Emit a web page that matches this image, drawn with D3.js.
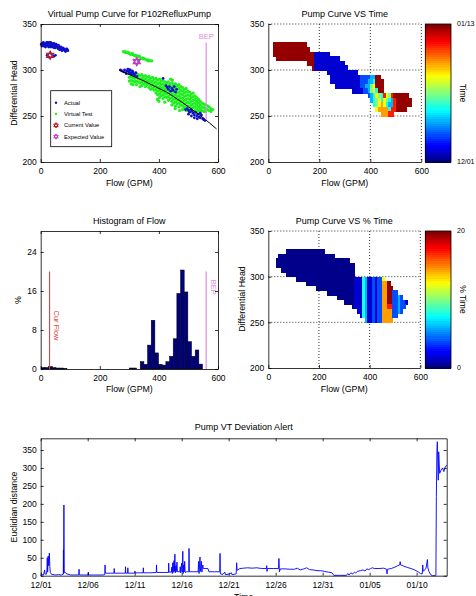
<!DOCTYPE html>
<html>
<head>
<meta charset="utf-8">
<script src="https://cdn.jsdelivr.net/npm/d3@7"></script>
<style>
  body { margin: 0; background: #fff; }
  svg { font-family: "Liberation Sans", Arial, Helvetica, sans-serif; }
</style>
</head>
<body>
<svg id="fig" width="476" height="596"></svg>
<script>
// ---------- data ----------
var flowTicks = [0, 200, 400, 600];
var headTicks = [200, 250, 300, 350];
var pctTicks = [0, 8, 16, 24];
var distTicks = [0, 50, 100, 150, 200, 250, 300, 350];
var dayTicks = [0, 5, 10, 15, 20, 25, 30, 35, 40];
var dayLabels = ['12/01', '12/06', '12/11', '12/16', '12/21', '12/26', '12/31', '01/05', '01/10'];

// actual operating points [flow, head]
var actualPts = [
  [2,328],[5,329],[8,327],[11,329],[14,327],[17,328],[20,326],[23,328],[26,327],[29,329],[32,326],[35,328],
  [38,327],[41,325],[44,327],[47,326],[50,324],[53,326],[56,325],[59,323],[62,325],[66,324],[70,322],[74,323],
  [78,322],[82,321],[86,322],[90,322],[20,330],[30,330],[45,329],[60,327],[10,326],[35,325],[55,327],[75,324],
  [4,326],[9,330],[16,325],[24,330],[27,325],[34,330],[40,329],[46,324],[52,328],[58,326],[64,322],[68,325],
  [72,321],[80,323],[84,320],[88,323],[92,321],
  [22,316],[28,314],[38,317],[44,315],[50,316],
  [270,300],[275,299],[280,298],[284,300],[288,297],[292,299],[295,301],[298,298],[301,296],[303,300],[306,297],
  [309,295],[312,298],[315,296],[318,294],[322,297],[326,293],[290,296],[300,300],[310,299],[414,291],
  [424,283],[428,281],[432,279],[436,282],[440,277],[444,280],[448,278],[452,282],[456,276],[460,279],
  [496,258],[500,256],[504,254],[508,257],[512,255],[516,253],[520,251],[524,254],[528,250],[532,252],
  [536,249],[540,248],[544,251],[548,247],[552,246],[556,245],[500,252],[510,250],[520,248],[530,247],[490,257],[540,253]
];
// virtual test points, columns of [flow, [heads]]
var virtualCols = [
  [280,[320]],[286,[319,320]],[292,[319]],[298,[318,319]],[304,[317]],[310,[317,318]],[316,[316]],[322,[316,315]],
  [328,[315]],[334,[314,315]],[340,[313]],[346,[313,312]],[352,[312]],[358,[311]],[364,[311,310]],[370,[310]],[376,[310]],
  [300,[296,292,288]],[306,[297,293,289,285]],[312,[296,292,288,284]],[318,[295,291,287]],[324,[296,292,288,284]],
  [330,[295,291,287]],[336,[294,290,286,282]],[342,[295,291,287,283]],[348,[293,289,285]],[354,[294,290,286,282]],
  [360,[292,288,284]],[366,[293,289,285,281]],[372,[291,287,283,279]],[378,[292,288,284,280]],[384,[290,286,282,278]],
  [390,[291,287,283,279,275]],[396,[289,285,281,277,273]],[402,[290,286,282,278,274,270]],[408,[288,284,280,276,272]],
  [414,[289,285,281,277,273,269]],[420,[287,283,279,275,271]],[426,[286,282,278,274,270]],[432,[287,283,279,275,271,267]],
  [438,[285,281,277,273,269]],[444,[286,282,278,274,270,266,262]],[450,[284,280,276,272,268,264]],
  [456,[285,281,277,273,269,265,261]],[462,[283,279,275,271,267,263]],[468,[284,280,276,272,268,264,260]],
  [474,[282,278,274,270,266,262]],[480,[281,277,273,269,265,261,257]],[486,[279,275,271,267,263,259]],
  [492,[280,276,272,268,264,260,256]],[498,[277,273,269,265,261,257]],[504,[276,272,268,264,260,256]],
  [510,[274,270,266,262,258]],[516,[275,271,267,263,259,255]],[522,[272,268,264,260,256]],[528,[270,266,262,258,254]],
  [534,[268,264,260,256]],[540,[266,262,258,255]],[546,[264,260,256]],[552,[263,259,255]],[558,[262,258,255]],
  [564,[261,257]],[570,[260,256]],[576,[258,255]],[582,[257]],
  [440,[290]],[446,[289]],[395,[268]],[400,[266]],[420,[265]],[455,[258]],[470,[256]],[330,[309]]
];
var curveFlow = [265, 300, 350, 400, 426, 450, 500, 550, 595];
var curveHead = [300, 295, 288, 280, 276, 271, 260, 248, 236];
var currentValue = [32, 316];
var expectedValue = [325, 309];
var bepFlow = 560, bepTop = 330, bepBottom = 246;
var curFlow = 30;
var legendLabels = ['Actual', 'Virtual Test', 'Current Value', 'Expected Value'];

// histogram of flow, percent per bin
var histStart = 2, histWidth = 12.4;
var histPct = [0.3, 0.3, 0.5, 0.3, 0.2, 0.2, 0.1, 0, 0, 0, 0, 0, 0, 0, 0, 0, 0, 0, 0, 0, 0, 0, 0, 0,
  0.2, 0.2, 0, 1.5, 0.96, 4.9, 10, 3.3, 0.96, 0.8, 1.5, 2.6, 6.2, 15.5, 20.3, 15.8, 5.6, 2.6, 3.9, 1.0];
var histLineTop = 20;

// gridded maps: one row per 5 of head from 335 down, cells of 10 GPM;
// each row is [first column, colour levels 0..9]
var gridFlowStep = 10, gridHeadStep = 5, gridHeadTop = 335;
var levelT = [0.01, 0.08, 0.2, 0.3, 0.4, 0.5, 0.62, 0.72, 0.85, 0.98];
var timeRows = [
  [0, ''],
  [2, '9999999999999'],
  [2, '99999999999999'],
  [2, '9999999999999999111111'],
  [3, '9999999999999991111111111'],
  [15, '999111111111111'],
  [17, '91111111111111'],
  [23, '111111111111'],
  [24, '11111111111122223399'],
  [24, '111111111111222334999'],
  [26, '1111111111223356999'],
  [33, '111122356499'],
  [39, '2346548658999999'],
  [40, '3456465438999999'],
  [41, '456764338999999'],
  [42, '677774889999'],
  [44, '77788']
];
var pctRows = [
  [0, ''],
  [7, '000000000000000'],
  [4, '0000000000000000000000'],
  [3, '00000000000000000000000000000'],
  [3, '0000000000000000000000000000000'],
  [5, '00000000000000000000000000000'],
  [7, '000000000000000000000000000'],
  [11, '00000000000000000000000' + '111431121226'],
  [15, '0000000000000000000' + '11143112122779'],
  [19, '000000000000000' + '111431121227799'],
  [23, '00000000000' + '11143112122779922'],
  [27, '0000000' + '1114311212277992232'],
  [30, '0000' + '111431121227799223221'],
  [33, '0' + '11143112122778822322'],
  [35, '114311212277772232'],
  [36, '143112122777722'],
  [38, '31121227777']
];
var timeBarLabels = ['12/01', '01/13'];
var pctBarLabels = ['0', '20'];

// deviation series [days since 12/01, distance]
var seriesDays = 43.2;
var deviation = [
  [0,1],[0.15,3],[0.3,2],[0.42,16],[0.46,5],[0.6,4],[0.66,14],[0.7,50],[0.74,10],[0.8,55],[0.84,28],[0.88,33],
  [0.92,63],[0.97,25],[1.02,9],[1.1,5],[1.3,3],[1.6,2],[1.9,3],[2.2,2],[2.4,4],[2.42,72],[2.44,6],[2.47,197],
  [2.5,9],[2.58,10],[2.7,6],[2.9,4],[3.2,2],[3.6,2],[4.05,2],[4.08,18],[4.11,2],[4.6,2],[5.05,2],[5.07,10],
  [5.09,2],[5.6,2],[6.2,2],[6.6,2],[6.82,3],[6.85,30],[6.88,7],[7.4,7],[7.8,7],[7.82,20],[7.85,7],[8.6,7],
  [9.0,7],[9.02,25],[9.05,7],[9.25,7],[9.27,22],[9.3,7],[10.0,7],[10.02,13],[10.05,8],[10.9,8],[10.92,22],
  [10.95,8],[11.6,8],[12.3,9],[12.32,30],[12.35,9],[13.1,9],[13.6,9],[13.62,35],[13.65,10],[13.9,10],[13.95,24],
  [14.0,6],[14.05,36],[14.1,9],[14.18,42],[14.22,12],[14.28,60],[14.32,8],[14.38,28],[14.42,11],[14.5,38],
  [14.55,11],[14.8,11],[14.85,25],[14.9,8],[15.0,35],[15.05,10],[15.12,68],[15.16,6],[15.22,30],[15.27,11],
  [15.32,40],[15.37,9],[15.5,11],[15.75,11],[15.78,76],[15.82,11],[16.2,11],[16.75,11],[16.8,40],[16.85,6],
  [16.95,52],[17.0,12],[17.1,40],[17.15,10],[17.25,30],[17.3,20],[17.5,20],[17.8,20],[17.9,11],[18.5,11],
  [19.05,11],[19.08,62],[19.12,5],[19.4,4],[19.6,10],[19.65,3],[20.0,4],[20.3,8],[20.35,3],[20.8,5],[20.85,36],
  [20.9,15],[21.2,20],[21.6,21],[22.0,22],[22.5,21],[23.0,22],[23.5,20],[24.0,20],[24.05,28],[24.08,12],
  [24.12,20],[24.8,20],[25.3,20],[25.35,48],[25.4,11],[25.5,19],[26.0,19],[26.5,18],[27.0,18],[27.3,21],
  [27.6,16],[28.0,19],[28.3,22],[28.6,17],[29.0,16],[29.4,14],[29.8,14],[30.2,12],[30.6,10],[31.0,8],[31.2,1],
  [31.8,1],[32.5,1],[32.7,6],[32.8,2],[33.0,8],[33.2,5],[33.4,10],[33.5,7],[33.7,12],[34.0,14],[34.3,16],
  [34.5,13],[34.7,19],[34.9,17],[35.1,20],[35.3,22],[35.5,20],[36.0,20],[36.5,21],[36.8,18],[36.85,5],
  [36.9,18],[37.3,20],[37.7,24],[38.0,28],[38.2,30],[38.25,39],[38.3,30],[38.6,27],[39.0,23],[39.4,20],
  [39.8,16],[40.2,10],[40.4,6],[40.6,5],[40.65,30],[40.7,12],[40.8,15],[41.0,20],[41.15,45],[41.2,22],
  [41.3,12],[41.5,3],[41.7,0],[42.0,0],[42.05,1],[42.1,220],[42.15,336],[42.2,373],[42.25,322],[42.3,266],
  [42.35,345],[42.45,285],[42.6,294],[42.75,300],[42.9,290],[43.05,303],[43.2,308]
];

// ---------- helpers ----------
var svg = d3.select('#fig');
var tickFont = 8.5;

function clamp(v){ return Math.max(0, Math.min(1, v)); }
function jet(t){
  return d3.rgb(255*clamp(1.5-Math.abs(4*t-3)), 255*clamp(1.5-Math.abs(4*t-2)), 255*clamp(1.5-Math.abs(4*t-1))) + '';
}
function hexagram(r){
  var p = d3.path(), i, a;
  for (var k = 0; k < 2; k++){
    for (i = 0; i < 3; i++){
      a = (k*60 + i*120 - 90) * Math.PI/180;
      if (i === 0) p.moveTo(r*Math.cos(a), r*Math.sin(a)); else p.lineTo(r*Math.cos(a), r*Math.sin(a));
    }
    p.closePath();
  }
  return p.toString();
}
function styleAxis(g, labels){
  g.selectAll('path.domain').attr('stroke', '#000').attr('stroke-width', 0.8);
  g.selectAll('.tick line').attr('stroke', '#000').attr('stroke-width', 0.8);
  g.selectAll('.tick text').attr('fill', '#000').style('font-size', tickFont + 'px');
  if (!labels) g.selectAll('.tick text').remove();
}
// MATLAB style box with inward ticks on all sides
function boxAxes(x, y, xt, yt, xfmt, pad){
  var x0 = x.range()[0], x1 = x.range()[1], y0 = y.range()[1], y1 = y.range()[0];
  var b = svg.append('g').attr('transform', 'translate(0,' + y1 + ')')
    .call(d3.axisBottom(x).tickValues(xt).tickSizeInner(-3).tickSizeOuter(0).tickPadding(pad || 5.5).tickFormat(xfmt || d3.format('d')));
  styleAxis(b, true);
  var t = svg.append('g').attr('transform', 'translate(0,' + y0 + ')')
    .call(d3.axisTop(x).tickValues(xt).tickSizeInner(-3).tickSizeOuter(0));
  styleAxis(t, false);
  var l = svg.append('g').attr('transform', 'translate(' + x0 + ',0)')
    .call(d3.axisLeft(y).tickValues(yt).tickSizeInner(-3).tickSizeOuter(0).tickPadding(4));
  styleAxis(l, true);
  var r = svg.append('g').attr('transform', 'translate(' + x1 + ',0)')
    .call(d3.axisRight(y).tickValues(yt).tickSizeInner(-3).tickSizeOuter(0));
  styleAxis(r, false);
}
// dotted grid behind the map (box off)
function gridLines(x, y, xt, yt){
  var x0 = x.range()[0], x1 = x.range()[1], y0 = y.range()[1], y1 = y.range()[0];
  var gg = svg.append('g').attr('stroke', '#000').attr('stroke-width', 0.8).attr('stroke-dasharray', '1,2');
  xt.slice(1).forEach(function(v){
    gg.append('line').attr('x1', x(v)).attr('x2', x(v)).attr('y1', y0).attr('y2', y1);
  });
  yt.slice(1).forEach(function(v){
    gg.append('line').attr('x1', x0).attr('x2', x1).attr('y1', y(v)).attr('y2', y(v));
  });
}
function openAxes(x, y, xt, yt){
  var y1 = y.range()[0], x0 = x.range()[0];
  var b = svg.append('g').attr('transform', 'translate(0,' + y1 + ')')
    .call(d3.axisBottom(x).tickValues(xt).tickSizeInner(-3).tickSizeOuter(0).tickPadding(5.5).tickFormat(d3.format('d')));
  styleAxis(b, true);
  var l = svg.append('g').attr('transform', 'translate(' + x0 + ',0)')
    .call(d3.axisLeft(y).tickValues(yt).tickSizeInner(-3).tickSizeOuter(0).tickPadding(4));
  styleAxis(l, true);
}
function title(txt, x, y){
  svg.append('text').attr('x', x).attr('y', y).attr('text-anchor', 'middle')
    .style('font-size', '9px').text(txt);
}
function xLabel(txt, x, y){
  svg.append('text').attr('x', x).attr('y', y).attr('text-anchor', 'middle')
    .style('font-size', '8.8px').text(txt);
}
function yLabel(txt, x, y){
  svg.append('text').attr('transform', 'translate(' + x + ',' + y + ') rotate(-90)')
    .attr('text-anchor', 'middle').style('font-size', '8.8px').text(txt);
}
function drawMap(rows, x, y){
  var cells = [];
  rows.forEach(function(row, r){
    row[1].split('').forEach(function(ch, k){
      cells.push({ flow: (row[0] + k)*gridFlowStep, head: gridHeadTop - r*gridHeadStep, level: +ch });
    });
  });
  svg.append('g').attr('shape-rendering', 'crispEdges')
    .selectAll('rect').data(cells).enter().append('rect')
    .attr('x', function(c){ return x(c.flow); })
    .attr('y', function(c){ return y(c.head); })
    .attr('width', x(gridFlowStep) - x(0) + 0.6)
    .attr('height', y(gridHeadTop - gridHeadStep) - y(gridHeadTop) + 0.6)
    .attr('fill', function(c){ return jet(levelT[c.level]); });
}
function colorbar(x0, x1, y0, y1, labels, name){
  var n = 64, g = svg.append('g'), h = (y1 - y0)/n;
  d3.range(n).forEach(function(i){
    g.append('rect').attr('x', x0).attr('width', x1 - x0).attr('shape-rendering', 'crispEdges')
      .attr('y', y1 - (i+1)*h).attr('height', h + 0.5).attr('fill', jet((i + 0.5)/n));
  });
  g.append('rect').attr('x', x0).attr('y', y0).attr('width', x1 - x0).attr('height', y1 - y0)
    .attr('fill', 'none').attr('stroke', '#000').attr('stroke-width', 0.8);
  g.append('text').attr('x', x1 + 6).attr('y', y1).attr('dy', '0.35em').style('font-size', '7px').text(labels[0]);
  g.append('text').attr('x', x1 + 6).attr('y', y0).attr('dy', '0.35em').style('font-size', '7px').text(labels[1]);
  g.append('text').attr('transform', 'translate(' + (x1 + 9) + ',' + ((y0 + y1)/2) + ') rotate(90)')
    .attr('text-anchor', 'middle').style('font-size', '8.5px').text(name);
}

// ---------- panel 1: virtual pump curve ----------
(function(){
  var x = d3.scaleLinear().domain([0, 600]).range([40.7, 218]);
  var y = d3.scaleLinear().domain([200, 350]).range([162, 24]);
  var cx = (40.7 + 218)/2;
  title('Virtual Pump Curve for P102RefluxPump', cx, 17);

  var virtualPts = virtualCols.flatMap(function(c){ return c[1].map(function(h){ return [c[0], h]; }); });
  svg.append('g').selectAll('circle').data(virtualPts).enter().append('circle')
    .attr('cx', function(d){ return x(d[0]); }).attr('cy', function(d){ return y(d[1]); })
    .attr('r', 1.6).attr('fill', '#1ef01e');
  svg.append('g').selectAll('circle').data(actualPts).enter().append('circle')
    .attr('cx', function(d){ return x(d[0]); }).attr('cy', function(d){ return y(d[1]); })
    .attr('r', 1.4).attr('fill', '#1010c8');

  var line = d3.line().x(function(d){ return x(d); }).y(function(d, i){ return y(curveHead[i]); })
    .curve(d3.curveMonotoneX);
  svg.append('path').attr('d', line(curveFlow)).attr('fill', 'none').attr('stroke', '#000').attr('stroke-width', 1);

  svg.append('line').attr('x1', x(bepFlow)).attr('x2', x(bepFlow)).attr('y1', y(bepTop)).attr('y2', y(bepBottom))
    .attr('stroke', '#e08ce0').attr('stroke-width', 1.2);
  svg.append('text').attr('x', x(bepFlow)).attr('y', y(bepTop) - 3).attr('text-anchor', 'middle')
    .attr('fill', '#e08ce0').style('font-size', '7.5px').text('BEP');

  svg.append('path').attr('d', hexagram(3.8)).attr('transform', 'translate(' + x(currentValue[0]) + ',' + y(currentValue[1]) + ')')
    .attr('fill', 'none').attr('stroke', '#b0203a').attr('stroke-width', 1.5);
  svg.append('path').attr('d', hexagram(3.8)).attr('transform', 'translate(' + x(expectedValue[0]) + ',' + y(expectedValue[1]) + ')')
    .attr('fill', 'none').attr('stroke', '#cc33cc').attr('stroke-width', 1.5);

  boxAxes(x, y, flowTicks, headTicks);
  xLabel('Flow (GPM)', cx, 186);
  yLabel('Differential Head', 17, 93);

  // legend
  var lg = svg.append('g');
  lg.append('rect').attr('x', 50.7).attr('y', 90.7).attr('width', 61).attr('height', 56)
    .attr('fill', '#fff').attr('stroke', '#000').attr('stroke-width', 0.8);
  legendLabels.forEach(function(lbl, i){
    var ly = 102.7 + i*11.3;
    if (i === 0) lg.append('circle').attr('cx', 56).attr('cy', ly).attr('r', 1.2).attr('fill', '#1010c8');
    if (i === 1) lg.append('circle').attr('cx', 56).attr('cy', ly).attr('r', 1.2).attr('fill', '#1ef01e');
    if (i === 2) lg.append('path').attr('d', hexagram(2.6)).attr('transform', 'translate(56,' + ly + ')')
      .attr('fill', 'none').attr('stroke', '#c01020').attr('stroke-width', 1);
    if (i === 3) lg.append('path').attr('d', hexagram(2.6)).attr('transform', 'translate(56,' + ly + ')')
      .attr('fill', 'none').attr('stroke', '#cc33cc').attr('stroke-width', 1);
    lg.append('text').attr('x', 64).attr('y', ly).attr('dy', '0.35em').style('font-size', '5.8px').text(lbl);
  });
})();

// ---------- panel 2: pump curve vs time ----------
(function(){
  var x = d3.scaleLinear().domain([0, 600]).range([268.3, 421.3]);
  var y = d3.scaleLinear().domain([200, 350]).range([162, 24]);
  title('Pump Curve VS Time', (268.3 + 421.3)/2, 17);
  gridLines(x, y, flowTicks, headTicks);
  drawMap(timeRows, x, y);
  openAxes(x, y, flowTicks, headTicks);
  xLabel('Flow (GPM)', (268.3 + 421.3)/2, 186);
  colorbar(425.3, 451, 24, 162, timeBarLabels, 'Time');
})();

// ---------- panel 3: histogram ----------
(function(){
  var x = d3.scaleLinear().domain([0, 600]).range([40.7, 218]);
  var y = d3.scaleLinear().domain([0, 28.3]).range([369, 231]);
  var cx = (40.7 + 218)/2;
  title('Histogram of Flow', cx, 224);
  var bins = histPct.map(function(v, i){ return { left: histStart + i*histWidth, pct: v }; })
    .filter(function(b){ return b.pct > 0; });
  svg.append('g').selectAll('rect').data(bins).enter().append('rect')
    .attr('x', function(b){ return x(b.left); })
    .attr('width', x(histWidth) - x(0))
    .attr('y', function(b){ return y(b.pct); })
    .attr('height', function(b){ return y(0) - y(b.pct); })
    .attr('fill', '#000080').attr('stroke', '#000').attr('stroke-width', 0.5);

  svg.append('line').attr('x1', x(curFlow)).attr('x2', x(curFlow)).attr('y1', y(histLineTop)).attr('y2', y(0))
    .attr('stroke', '#d64545').attr('stroke-width', 1.1);
  svg.append('text').attr('transform', 'translate(' + (x(curFlow) + 4) + ',' + y(12) + ') rotate(90)')
    .attr('dy', '-0.1em').attr('fill', '#d64545').style('font-size', '7.5px').text('Cur Flow');
  svg.append('line').attr('x1', x(bepFlow)).attr('x2', x(bepFlow)).attr('y1', y(histLineTop)).attr('y2', y(0))
    .attr('stroke', '#e08ce0').attr('stroke-width', 1.2);
  svg.append('text').attr('transform', 'translate(' + (x(bepFlow) + 4) + ',' + y(18.3) + ') rotate(90)')
    .attr('dy', '-0.1em').attr('fill', '#e08ce0').style('font-size', '7.5px').text('BEP');

  boxAxes(x, y, flowTicks, pctTicks);
  xLabel('Flow (GPM)', cx, 392);
  yLabel('%', 21, 300);
})();

// ---------- panel 4: pump curve vs % time ----------
(function(){
  var x = d3.scaleLinear().domain([0, 600]).range([268.3, 420.3]);
  var y = d3.scaleLinear().domain([200, 350]).range([368, 231]);
  title('Pump Curve VS % Time', (268.3 + 420.3)/2, 224);
  gridLines(x, y, flowTicks, headTicks);
  drawMap(pctRows, x, y);
  openAxes(x, y, flowTicks, headTicks);
  xLabel('Flow (GPM)', (268.3 + 420.3)/2, 392);
  yLabel('Differential Head', 245, 299);
  colorbar(425.3, 451, 231, 368, pctBarLabels, '% Time');
})();

// ---------- panel 5: deviation alert ----------
(function(){
  var x = d3.scaleLinear().domain([0, seriesDays]).range([40.7, 446.7]);
  var y = d3.scaleLinear().domain([0, 382.6]).range([575.7, 438.3]);
  title('Pump VT Deviation Alert', (40.7 + 446.7)/2, 430);
  var line = d3.line().x(function(d){ return x(d[0]); }).y(function(d){ return y(d[1]); });
  svg.append('path').attr('d', line(deviation)).attr('fill', 'none')
    .attr('stroke', '#0000ff').attr('stroke-width', 0.9);
  boxAxes(x, y, dayTicks, distTicks, function(d){ return dayLabels[dayTicks.indexOf(d)]; }, 6.5);
  xLabel('Time', (40.7 + 446.7)/2, 600);
  yLabel('Euclidian distance', 17, 507);
})();
</script>
</body>
</html>
